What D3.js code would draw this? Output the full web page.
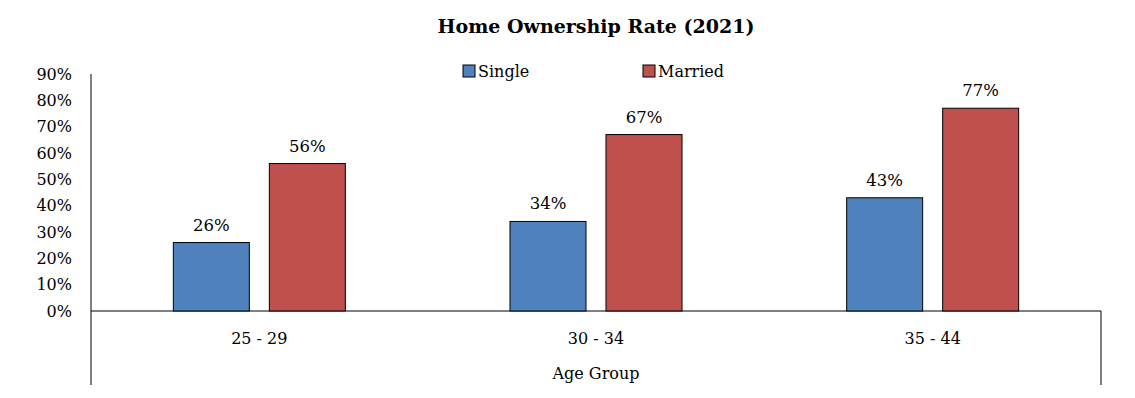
<!DOCTYPE html>
<html lang="en">
<head>
  <meta charset="UTF-8">
  <title>Home Ownership Rate (2021)</title>
  <style>
    body { margin: 0; background: #fff; }
    text { font-family: "DejaVu Serif", serif; }
  </style>
</head>
<body>
  <svg width="1135" height="398" id="chart"></svg>
  <script src="https://d3js.org/d3.v7.min.js"></script>
  <script>
    const categories = ['25 - 29', '30 - 34', '35 - 44'];
    const seriesNames = ['Single', 'Married'];
    const single = [0.26, 0.34, 0.43];
    const married = [0.56, 0.67, 0.77];
    const yTicks = [0, 0.1, 0.2, 0.3, 0.4, 0.5, 0.6, 0.7, 0.8, 0.9];
    const colors = ['#4F81BD', '#C0504D'];

    let svg = d3.select('#chart');
    let mLeft = 91, mRight = 1101, mTop = 74, mBottom = 311;

    let x = d3.scaleBand().domain(categories).range([mLeft, mRight]);
    let y = d3.scaleLinear().domain([0, 0.9]).range([mBottom, mTop]);
    // two bars of ~76px with a 20px gap, centred in each band
    let inner = d3.scaleBand().domain(seriesNames).range([0, 172]).paddingInner(20 / 96);

    // title
    svg.append('text')
        .attr('x', 596).attr('y', 33)
        .attr('text-anchor', 'middle')
        .attr('font-size', 19).attr('font-weight', 'bold')
        .text('Home Ownership Rate (2021)');

    // y axis
    let yAxis = svg.append('g')
        .attr('transform', `translate(${mLeft},0)`)
        .call(d3.axisLeft(y).tickValues(yTicks).tickFormat(d3.format('.0%')).tickSize(0).tickPadding(19));
    yAxis.select('.domain').remove();
    yAxis.selectAll('text').attr('font-size', 16).attr('fill', '#000')
        .style('font-family', '"DejaVu Serif", serif');

    svg.append('line').attr('x1', mLeft).attr('x2', mLeft).attr('y1', mTop).attr('y2', 385)
        .attr('stroke', '#000');
    svg.append('line').attr('x1', mLeft).attr('x2', mRight).attr('y1', mBottom).attr('y2', mBottom)
        .attr('stroke', '#000');
    svg.append('line').attr('x1', mRight).attr('x2', mRight).attr('y1', mBottom).attr('y2', 385)
        .attr('stroke', '#000');

    // bars
    let rows = categories.map((c, i) => ({cat: c, vals: [single[i], married[i]]}));
    let groups = svg.selectAll('g.grp').data(rows).join('g')
        .attr('class', 'grp')
        .attr('transform', d => `translate(${x(d.cat) + x.bandwidth() / 2 - 86},0)`);

    let cells = groups.selectAll('g.cell')
        .data(d => d.vals.map((v, j) => ({name: seriesNames[j], v: v, j: j})))
        .join('g').attr('class', 'cell');

    cells.append('rect')
        .attr('x', d => inner(d.name))
        .attr('width', inner.bandwidth())
        .attr('y', d => y(d.v))
        .attr('height', d => mBottom - y(d.v))
        .attr('fill', d => colors[d.j])
        .attr('stroke', '#000').attr('stroke-width', 1);

    cells.append('text')
        .attr('x', d => inner(d.name) + inner.bandwidth() / 2)
        .attr('y', d => y(d.v) - 12)
        .attr('text-anchor', 'middle')
        .attr('font-size', 16.5)
        .text(d => d3.format('.0%')(d.v));

    // category labels
    svg.selectAll('text.cat').data(categories).join('text')
        .attr('class', 'cat')
        .attr('x', d => x(d) + x.bandwidth() / 2)
        .attr('y', 344)
        .attr('text-anchor', 'middle')
        .attr('font-size', 16)
        .text(d => d);

    svg.append('text')
        .attr('x', 596).attr('y', 379)
        .attr('text-anchor', 'middle')
        .attr('font-size', 16)
        .text('Age Group');

    // legend
    let legendX = [463, 643];
    let legend = svg.selectAll('g.leg').data(seriesNames).join('g')
        .attr('class', 'leg')
        .attr('transform', (d, i) => `translate(${legendX[i]},65)`);
    legend.append('rect').attr('width', 12).attr('height', 12)
        .attr('fill', (d, i) => colors[i]).attr('stroke', '#000');
    legend.append('text').attr('x', 15).attr('y', 12).attr('font-size', 16).text(d => d);
  </script>
</body>
</html>
